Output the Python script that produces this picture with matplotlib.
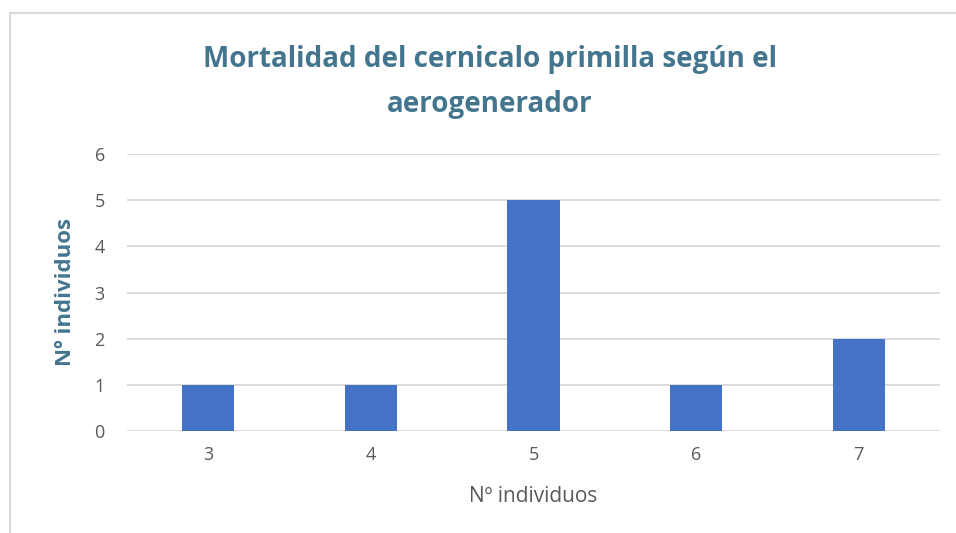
import matplotlib.pyplot as plt
from matplotlib.patches import Rectangle

categorias = ['3', '4', '5', '6', '7']
valores = [1, 1, 5, 1, 2]
yticks = [0, 1, 2, 3, 4, 5, 6]

titulo = 'Mortalidad del cernicalo primilla según el\naerogenerador'
ylab = 'Nº individuos'
xlab = 'Nº individuos'

plt.rcParams['font.family'] = ['Open Sans', 'DejaVu Sans']

W, H = 956, 533
fig = plt.figure(figsize=(W / 100, H / 100), dpi=100)
ax = fig.add_axes([127 / W, 1 - 431 / H, (940 - 127) / W, (431 - 154) / H])

x = range(len(categorias))
ax.bar(x, valores, width=0.32, color='#4472C4', zorder=3)
ax.set_xlim(-0.5, len(categorias) - 0.5)
ax.set_ylim(0, 6)
ax.set_yticks(yticks)
ax.set_xticks(list(x))
ax.set_xticklabels(categorias)
ax.grid(axis='y', color='#D9D9D9', linewidth=1.3, zorder=0)
for s in ax.spines.values():
    s.set_visible(False)
ax.tick_params(length=0, colors='#595959', labelsize=13, pad=16)
ax.tick_params(axis='x', pad=11)

ax.set_ylabel(ylab, color='#44758F', fontsize=16, fontweight='bold', labelpad=13)
ax.set_xlabel(xlab, color='#595959', fontsize=15, labelpad=16)

fig.text(490 / W, 1 - 82 / H, titulo, ha='center', va='center', fontsize=20,
         fontweight='bold', color='#44758F', linespacing=1.75)

# marco del gráfico (recortado a la derecha y abajo)
fig.patches.append(Rectangle((9.5 / W, -0.1), 1.2, 1 - 13 / H + 0.1, transform=fig.transFigure,
                             fill=False, edgecolor='#D9D9D9', linewidth=1.5))

fig.savefig('out.png', dpi=100)
